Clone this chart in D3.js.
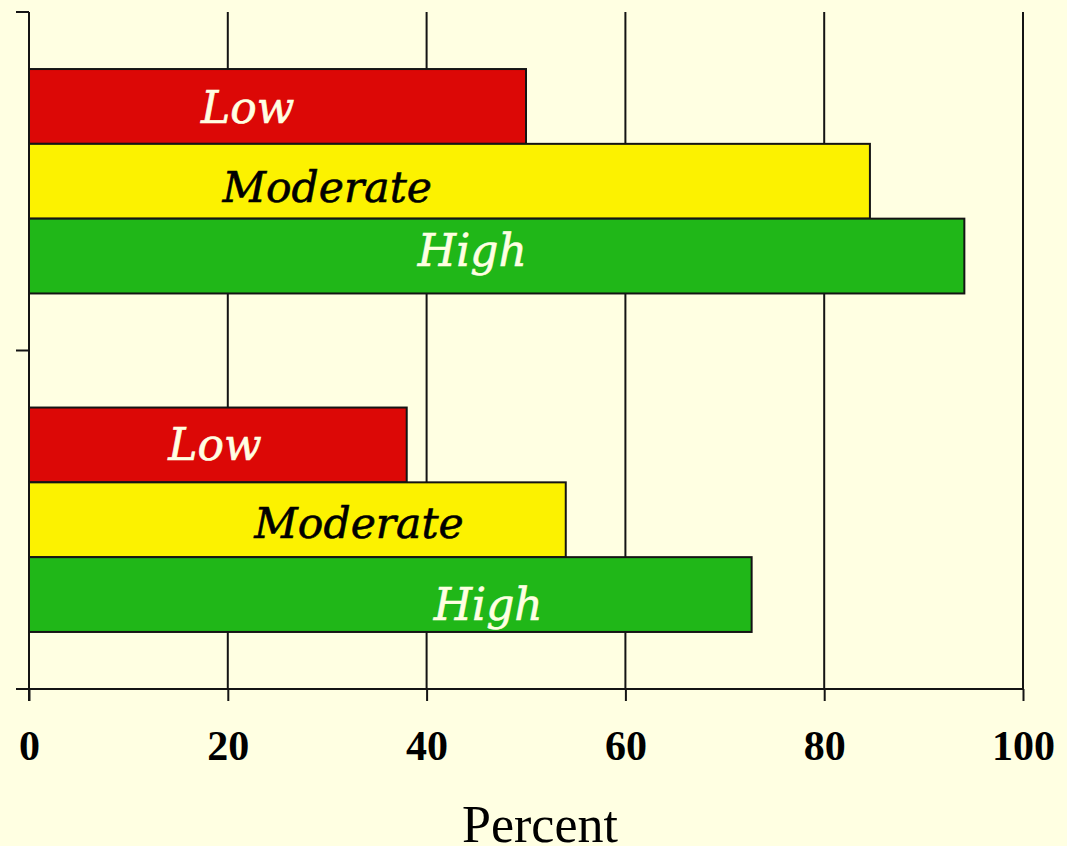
<!DOCTYPE html>
<html>
<head>
<meta charset="utf-8">
<script src="https://cdn.jsdelivr.net/npm/d3@7"></script>
<style>
  html, body { margin: 0; padding: 0; background: #FFFFE2; }
  svg { display: block; }
</style>
</head>
<body>
<svg id="chart" width="1067" height="846"></svg>
<script>
// Two groups of horizontal bars, each split into Low / Moderate / High.
const groups = ["Group 1", "Group 2"];
const levels = ["Low", "Moderate", "High"];
const group1Values = [50, 84.6, 94.1];
const group2Values = [38, 54, 72.7];
const xTicks = [0, 20, 40, 60, 80, 100];
const axisTitle = "Percent";

// Where each level's caption sits along the bar (percent units).
const group1LabelAt = [22.0, 30.0, 44.6];
const group2LabelAt = [18.7, 33.2, 46.2];

const rows = [];
groups.forEach((g, gi) => {
  const vals = gi === 0 ? group1Values : group2Values;
  const at = gi === 0 ? group1LabelAt : group2LabelAt;
  levels.forEach((lv, li) => rows.push({ group: g, level: lv, value: vals[li], labelAt: at[li] }));
});

const colors = { Low: "#DC0806", Moderate: "#FCF200", High: "#20B718" };
const textColors = { Low: "#FFFFE2", Moderate: "#000000", High: "#FFFFE2" };
// Baseline of each caption as a fraction of its bar's height.
const baseFrac = {
  "Group 1": { Low: 0.72, Moderate: 0.78, High: 0.63 },
  "Group 2": { Low: 0.70, Moderate: 0.75, High: 0.84 }
};

const svg = d3.select("#chart");
const plotLeft = 29, plotRight = 1023, plotTop = 12, plotBottom = 689;

const x = d3.scaleLinear().domain([0, 100]).range([plotLeft, plotRight]);
const y0 = d3.scaleBand().domain(groups).range([plotTop, plotBottom]).paddingInner(0.337).paddingOuter(0.1685);
const y1 = d3.scaleBand().domain(levels).range([0, y0.bandwidth()]);

const ink = "#141414";

// tick marks and labels below the baseline
const xAxis = d3.axisBottom(x).tickValues(xTicks).tickSize(12).tickFormat(d3.format("d"));
const gx = svg.append("g").attr("transform", `translate(0,${plotBottom})`).call(xAxis);
gx.select(".domain").remove();
gx.selectAll(".tick line").attr("stroke", ink).attr("stroke-width", 2);
gx.selectAll(".tick text")
  .attr("y", 71).attr("dy", null)
  .attr("font-family", "'Liberation Serif', 'Times New Roman', serif")
  .attr("font-weight", "bold").attr("font-size", 42).attr("fill", "#000");

// vertical gridlines
svg.append("g").selectAll("line").data(xTicks.filter(t => t > 0)).join("line")
  .attr("x1", d => x(d)).attr("x2", d => x(d))
  .attr("y1", plotTop).attr("y2", plotBottom)
  .attr("stroke", ink).attr("stroke-width", 2);

// left axis with ticks at group boundaries
const yEdges = [plotTop, (plotTop + plotBottom) / 2, plotBottom];
svg.append("g").selectAll("line").data(yEdges).join("line")
  .attr("x1", plotLeft - 13).attr("x2", plotLeft).attr("y1", d => d).attr("y2", d => d)
  .attr("stroke", ink).attr("stroke-width", 2);
svg.append("line").attr("x1", plotLeft).attr("x2", plotLeft).attr("y1", plotTop).attr("y2", plotBottom + 12)
  .attr("stroke", ink).attr("stroke-width", 2);
svg.append("line").attr("x1", plotLeft).attr("x2", plotRight).attr("y1", plotBottom).attr("y2", plotBottom)
  .attr("stroke", ink).attr("stroke-width", 2);

// bars
svg.append("g").selectAll("rect").data(rows).join("rect")
  .attr("x", x(0))
  .attr("y", d => y0(d.group) + y1(d.level))
  .attr("width", d => x(d.value) - x(0))
  .attr("height", y1.bandwidth())
  .attr("fill", d => colors[d.level])
  .attr("stroke", ink).attr("stroke-width", 2);

// captions inside bars
svg.append("g").selectAll("text").data(rows).join("text")
  .attr("x", d => x(d.labelAt))
  .attr("y", d => y0(d.group) + y1(d.level) + y1.bandwidth() * baseFrac[d.group][d.level])
  .attr("text-anchor", "middle")
  .attr("font-family", "'DejaVu Serif', serif")
  .attr("font-style", "italic")
  .attr("font-size", d => d.level === "Moderate" ? 42.5 : 44)
  .attr("fill", d => textColors[d.level])
  .attr("stroke", d => textColors[d.level]).attr("stroke-width", 0.6)
  .text(d => d.level);

// axis title
svg.append("text")
  .attr("x", 540).attr("y", 842)
  .attr("text-anchor", "middle")
  .attr("font-family", "'Liberation Serif', 'Times New Roman', serif")
  .attr("font-size", 52).attr("fill", "#000")
  .text(axisTitle);
</script>
</body>
</html>
